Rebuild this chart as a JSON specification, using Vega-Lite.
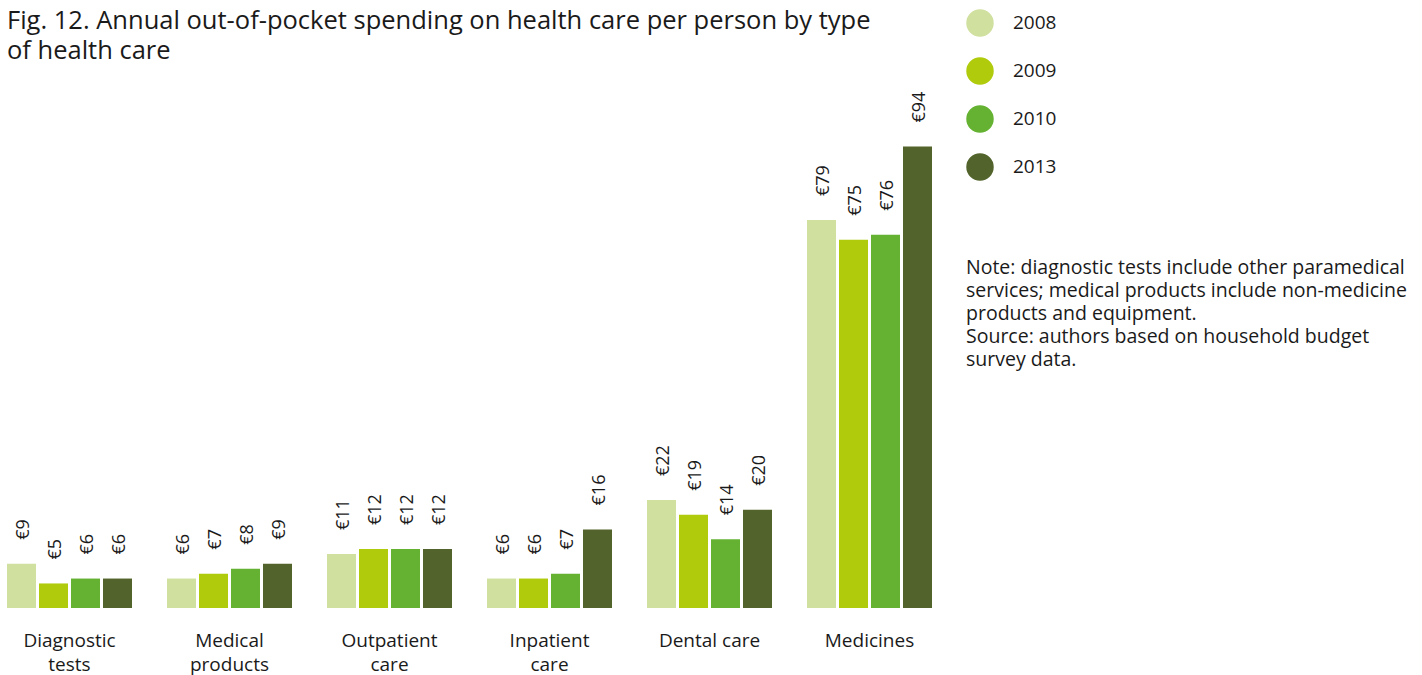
{
  "$schema": "https://vega.github.io/schema/vega-lite/v6.json",
  "width": 925,
  "height": 491,
  "autosize": {"type": "none"},
  "padding": {"left": 7, "top": 117, "right": 490, "bottom": 67},
  "background": "white",
  "title": {
    "text": ["Fig. 12. Annual out-of-pocket spending on health care per person by type", "of health care"],
    "anchor": "start",
    "frame": "group",
    "offset": -55,
    "fontSize": 25.5,
    "fontWeight": "normal",
    "font": "Open Sans",
    "color": "#1a1a1a",
    "lineHeight": 30
  },
  "data": {
    "values": [
      {"category": "Diagnostic tests", "year": "2008", "value": 9},
      {"category": "Diagnostic tests", "year": "2009", "value": 5},
      {"category": "Diagnostic tests", "year": "2010", "value": 6},
      {"category": "Diagnostic tests", "year": "2013", "value": 6},
      {"category": "Medical products", "year": "2008", "value": 6},
      {"category": "Medical products", "year": "2009", "value": 7},
      {"category": "Medical products", "year": "2010", "value": 8},
      {"category": "Medical products", "year": "2013", "value": 9},
      {"category": "Outpatient care", "year": "2008", "value": 11},
      {"category": "Outpatient care", "year": "2009", "value": 12},
      {"category": "Outpatient care", "year": "2010", "value": 12},
      {"category": "Outpatient care", "year": "2013", "value": 12},
      {"category": "Inpatient care", "year": "2008", "value": 6},
      {"category": "Inpatient care", "year": "2009", "value": 6},
      {"category": "Inpatient care", "year": "2010", "value": 7},
      {"category": "Inpatient care", "year": "2013", "value": 16},
      {"category": "Dental care", "year": "2008", "value": 22},
      {"category": "Dental care", "year": "2009", "value": 19},
      {"category": "Dental care", "year": "2010", "value": 14},
      {"category": "Dental care", "year": "2013", "value": 20},
      {"category": "Medicines", "year": "2008", "value": 79},
      {"category": "Medicines", "year": "2009", "value": 75},
      {"category": "Medicines", "year": "2010", "value": 76},
      {"category": "Medicines", "year": "2013", "value": 94}
    ]
  },
  "encoding": {
    "x": {
      "field": "category",
      "type": "nominal",
      "sort": ["Diagnostic tests", "Medical products", "Outpatient care", "Inpatient care", "Dental care", "Medicines"],
      "scale": {"paddingInner": 0.21875, "paddingOuter": 0},
      "axis": {
        "title": null,
        "labelAngle": 0,
        "labelFont": "Open Sans",
        "labelFontSize": 19,
        "labelColor": "#1a1a1a",
        "labelBaseline": "top",
        "labelPadding": 23,
        "labelLineHeight": 24,
        "labelExpr": "datum.label == 'Dental care' ? datum.label : split(datum.label, ' ')",
        "ticks": false,
        "domain": false,
        "grid": false
      }
    },
    "xOffset": {
      "field": "year",
      "type": "nominal",
      "scale": {"paddingInner": 0.09375, "paddingOuter": 0}
    },
    "y": {
      "field": "value",
      "type": "quantitative",
      "scale": {"domain": [0, 100]},
      "axis": null
    }
  },
  "layer": [
    {
      "mark": {"type": "bar"},
      "encoding": {
        "color": {
          "field": "year",
          "type": "nominal",
          "scale": {
            "domain": ["2008", "2009", "2010", "2013"],
            "range": ["#d0e09f", "#b0ca0c", "#65b232", "#52642b"]
          },
          "legend": {
            "orient": "none",
            "legendX": 959,
            "legendY": -108,
            "padding": 0,
            "title": [
              "Note: diagnostic tests include other paramedical",
              "services; medical products include non-medicine",
              "products and equipment.",
              "Source: authors based on household budget",
              "survey data."
            ],
            "titleOrient": "bottom",
            "titleAnchor": "start",
            "titleFont": "Open Sans",
            "titleFontSize": 19.5,
            "titleFontWeight": "normal",
            "titleColor": "#1a1a1a",
            "titleLineHeight": 23,
            "titlePadding": 78,
            "titleLimit": 600,
            "symbolType": "circle",
            "symbolSize": 755,
            "symbolStrokeWidth": 0,
            "labelFont": "Open Sans",
            "labelFontSize": 19,
            "labelColor": "#1a1a1a",
            "labelOffset": 19,
            "rowPadding": 20
          }
        }
      }
    },
    {
      "mark": {
        "type": "text",
        "angle": -90,
        "align": "left",
        "baseline": "middle",
        "dx": 24,
        "dy": 2,
        "font": "Open Sans",
        "fontSize": 18,
        "color": "#1a1a1a"
      },
      "encoding": {
        "text": {"field": "value", "type": "quantitative", "format": "$d"}
      }
    }
  ],
  "config": {
    "view": {"stroke": null},
    "locale": {
      "number": {"decimal": ".", "thousands": ",", "grouping": [3], "currency": ["€", ""]}
    }
  }
}
